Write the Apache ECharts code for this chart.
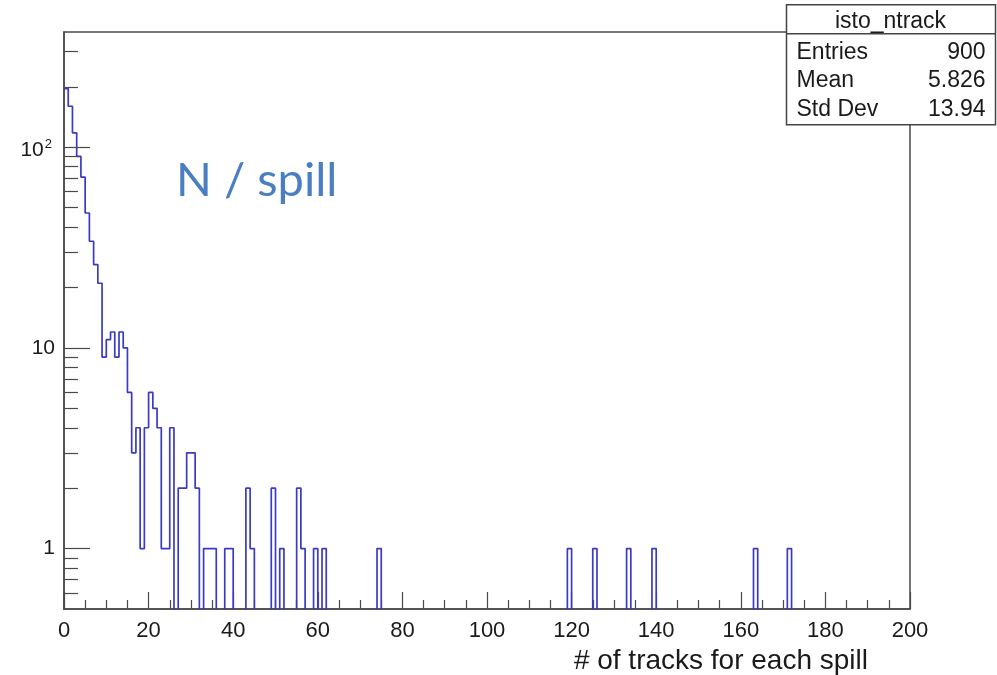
<!DOCTYPE html>
<html>
<head>
<meta charset="utf-8">
<script src="https://cdn.jsdelivr.net/npm/echarts@6/dist/echarts.min.js"></script>
<style>
  html, body { margin: 0; padding: 0; background: #fff; }
  #chart { width: 997px; height: 675px; }
</style>
</head>
<body>
<div id="chart"></div>
<script>
// Track multiplicity per spill: counts in unit-width bins [n, n+1), n = 0..199
const denseCounts = [
  196, 160, 118, 90, 71, 47, 34, 26, 21, 9,
  11, 12, 9, 12, 10, 6, 3, 4, 1, 4,
  6, 5, 4, 1, 1, 4, 0, 2, 2, 3,
  3, 2, 0, 1, 1, 1, 0, 0, 1, 1,
  0, 0, 0, 2, 1, 0, 0, 0, 0, 2,
  0, 1, 0, 0, 0, 2, 1, 0, 0, 1,
  0, 1, 0, 0, 0, 0, 0, 0, 0, 0,
  0, 0, 0, 0, 1
];
// isolated high-multiplicity spills
const tailBins = [119, 125, 133, 139, 163, 171];
const tailCounts = [1, 1, 1, 1, 1, 1];

const nBins = 200;
const xTicks = [0, 20, 40, 60, 80, 100, 120, 140, 160, 180, 200];
const yMajor = [1, 10, 100];
const yMinor = [0.6, 0.7, 0.8, 0.9, 2, 3, 4, 5, 6, 7, 8, 9, 20, 30, 40, 50, 60, 70, 80, 90, 200, 300];

const statsTitle = 'isto_ntrack';
const statsRows = [['Entries', '900'], ['Mean', '5.826'], ['Std Dev', '13.94']];

// full bin contents
const counts = new Array(nBins).fill(0);
denseCounts.forEach((c, i) => { counts[i] = c; });
tailBins.forEach((b, i) => { counts[b] += tailCounts[i]; });

// empty bins sit below the log-axis floor and get clipped at the frame
const Y_MIN = 0.5, Y_MAX = 375, EMPTY = 0.2;
const outline = counts.map((c, i) => [i, c > 0 ? c : EMPTY]);
outline.push([nBins, outline[nBins - 1][1]]);

const axisGray = '#4a4a4a';
const textDark = '#1a1a1a';
const font = 'Liberation Sans, Arial, sans-serif';

const chart = echarts.init(document.getElementById('chart'), null, { renderer: 'canvas' });
chart.setOption({
  animation: false,
  backgroundColor: '#fff',
  grid: { left: 64, right: 87, top: 32, bottom: 65, show: true, borderColor: axisGray, borderWidth: 1.5, backgroundColor: 'transparent' },
  xAxis: {
    type: 'value', min: 0, max: 200, interval: 20,
    axisLine: { show: true, lineStyle: { color: axisGray, width: 1.5 } },
    axisTick: { show: true, inside: true, length: 17, lineStyle: { color: axisGray, width: 1.2 } },
    minorTick: { show: true, splitNumber: 4, length: 9, lineStyle: { color: axisGray, width: 1.2 } },
    splitLine: { show: false },
    axisLabel: {
      color: textDark, fontFamily: font, fontSize: 22, margin: 11,
      customValues: xTicks
    },
    name: '# of tracks for each spill',
    nameLocation: 'end', nameGap: 0,
    nameTextStyle: { color: textDark, fontFamily: font, fontSize: 28, align: 'right', verticalAlign: 'top', padding: [38, 42, 0, 0] }
  },
  yAxis: [
    {
      type: 'log', logBase: 10, min: Y_MIN, max: Y_MAX, position: 'left',
      axisLine: { show: true, lineStyle: { color: axisGray, width: 1.5 } },
      axisTick: { show: true, inside: true, length: 26, customValues: yMajor, lineStyle: { color: axisGray, width: 1.2 } },
      splitLine: { show: false },
      axisLabel: {
        customValues: yMajor, margin: 9,
        color: textDark, fontFamily: font, fontSize: 21,
        formatter: v => (Math.abs(v - 100) < 1e-6 ? '{b|10}{s|2}' : String(Math.round(v))),
        rich: {
          b: { fontFamily: font, fontSize: 21, color: textDark, padding: [6, 0, 0, 0] },
          s: { fontFamily: font, fontSize: 13, color: textDark, padding: [0, 3, 6, 1] }
        }
      }
    },
    {
      type: 'log', logBase: 10, min: Y_MIN, max: Y_MAX, position: 'left',
      axisLine: { show: false },
      axisTick: { show: true, inside: true, length: 14, customValues: yMinor, lineStyle: { color: axisGray, width: 1.2 } },
      splitLine: { show: false },
      axisLabel: { show: false }
    }
  ],
  series: [{
    type: 'line', step: 'end', symbol: 'none', clip: true,
    yAxisIndex: 0,
    data: outline,
    lineStyle: { color: '#3a3ac6', width: 1.7 },
    z: 3
  }],
  graphic: [
    {
      type: 'text', left: 176, top: 157, z: 10,
      style: { text: 'N / spill', fill: '#4a7ec2', fontFamily: 'Lato, Open Sans, sans-serif', fontSize: 47 }
    },
    {
      type: 'group', left: 784, top: 4, z: 20,
      children: [
        { type: 'rect', shape: { x: 0, y: 0, width: 209, height: 120 }, style: { fill: '#fff', stroke: '#444', lineWidth: 1.5 } },
        { type: 'line', shape: { x1: 0, y1: 29, x2: 209, y2: 29 }, style: { stroke: '#444', lineWidth: 1.5 } },
        { type: 'text', x: 104, y: 16.5, style: { text: statsTitle, fill: textDark, fontFamily: font, fontSize: 23, align: 'center', verticalAlign: 'middle' } },
        ...statsRows.flatMap((r, i) => [
          { type: 'text', x: 10, y: 48 + i * 28.3, style: { text: r[0], fill: textDark, fontFamily: font, fontSize: 23, align: 'left', verticalAlign: 'middle' } },
          { type: 'text', x: 199, y: 48 + i * 28.3, style: { text: r[1], fill: textDark, fontFamily: font, fontSize: 23, align: 'right', verticalAlign: 'middle' } }
        ])
      ]
    }
  ]
});
</script>
</body>
</html>
